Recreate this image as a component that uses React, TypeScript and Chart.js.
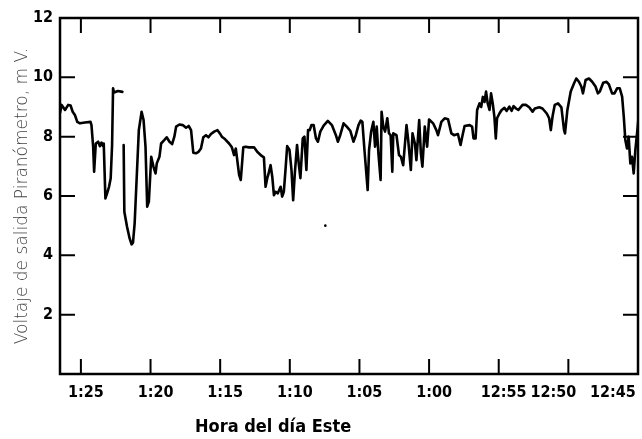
import React, { useEffect, useRef } from "react";
import { Chart, registerables } from "chart.js";

Chart.register(...registerables);

// Time in minutes after 12:00 (e.g. 85 = 1:25), axis runs backwards in time
const times: number[] = [
  86.5, 86.38, 86.14, 85.91, 85.74, 85.59, 85.43, 85.26, 85.07, 84.71, 84.31, 84.24, 84.12, 84.05,
  83.93, 83.76, 83.64, 83.52, 83.41, 83.36, 83.24, 83.12, 82.98, 82.86, 82.76, 82.69, 82.62, 82.34,
  82.02, 81.99,
  81.93, 81.88, 81.69, 81.5, 81.36, 81.26, 81.14, 80.98, 80.84, 80.64, 80.5, 80.36, 80.24, 80.12,
  79.95, 79.79, 79.64, 79.55, 79.36, 79.24, 79.0, 78.84, 78.64, 78.45, 78.29, 78.16, 77.93, 77.69,
  77.45, 77.26, 77.09, 76.93, 76.74, 76.55, 76.38, 76.21, 76.02, 75.84, 75.66, 75.43, 75.19, 75.02,
  74.88, 74.64, 74.36, 74.16, 74.0, 73.88, 73.81, 73.64, 73.52, 73.41, 73.34, 73.17, 72.93, 72.57,
  72.34, 72.02, 71.86, 71.74, 71.62, 71.55, 71.38, 71.26, 71.14, 71.02, 70.86, 70.66, 70.55, 70.43,
  70.31, 70.19, 70.02, 69.88, 69.76, 69.64, 69.48, 69.36, 69.24, 69.07, 68.95, 68.81, 68.69, 68.57,
  68.45, 68.29, 68.12, 67.98, 67.81, 67.57, 67.27, 66.98, 66.69, 66.55, 66.38, 66.14, 65.91, 65.66,
  65.43, 65.26, 65.07, 64.91, 64.79, 64.64, 64.41, 64.31, 64.16, 64.0, 63.88, 63.76, 63.64, 63.48,
  63.41, 63.29, 63.16, 63.0, 62.88, 62.76, 62.64, 62.57, 62.34, 62.16, 62.02, 61.86, 61.62, 61.5,
  61.31, 61.19, 61.02, 60.91, 60.71, 60.59, 60.48, 60.31, 60.14, 60.0, 59.71, 59.48, 59.36, 59.12,
  58.88, 58.64, 58.4, 58.21, 57.93, 57.74, 57.62, 57.45, 57.09, 56.91, 56.81, 56.66, 56.55, 56.38,
  56.26, 56.14, 56.02, 55.91, 55.79, 55.66, 55.55, 55.43, 55.31, 55.21, 55.12, 54.95, 54.79, 54.59,
  54.43, 54.24, 54.07, 53.93, 53.76, 53.59, 53.29, 53.05, 52.81, 52.57, 52.41, 52.09, 51.86, 51.55,
  51.38, 51.26, 51.14, 50.98, 50.74, 50.5, 50.31, 50.24, 50.07, 49.83, 49.59, 49.43, 49.24, 49.07,
  48.95, 48.76, 48.52, 48.29, 48.05, 47.88, 47.74, 47.5, 47.26, 47.09, 46.86, 46.69, 46.5, 46.31,
  46.14, 46.02, 45.91, 45.79, 45.67, 45.55, 45.43, 45.31, 45.19, 45.02, 44.95,
];

// Pyranometer output voltage, mV (null = break in the trace)
const voltage: (number | null)[] = [
  8.8, 9.07, 8.9, 9.07, 9.05, 8.84, 8.73, 8.5, 8.45, 8.48, 8.5, 8.39, 7.66, 6.82,
  7.77, 7.83, 7.68, 7.8, 7.68, 7.77, 5.92, 6.09, 6.31, 6.6, 7.72, 9.63, 9.49, 9.54,
  9.51, null,
  7.72, 5.47, 4.97, 4.57, 4.37, 4.43, 5.08, 6.76, 8.22, 8.84, 8.56, 7.66, 5.64, 5.81,
  7.32, 6.99, 6.76, 7.1, 7.32, 7.77, 7.89, 7.98, 7.83, 7.75, 8.0, 8.34, 8.41, 8.39,
  8.3, 8.36, 8.22, 7.46, 7.44, 7.49, 7.6, 7.98, 8.05, 7.98, 8.09, 8.17, 8.22, 8.11,
  8.0, 7.91, 7.77, 7.64, 7.38, 7.6, 7.35, 6.71, 6.54, 7.21, 7.64, 7.66, 7.64, 7.64,
  7.49, 7.35, 7.3, 6.31, 6.6, 6.71, 7.04, 6.65, 6.03, 6.14, 6.09, 6.31, 5.98, 6.14,
  6.88, 7.68, 7.55, 6.88, 5.86, 6.76, 7.72, 7.1, 6.6, 7.94, 8.0, 6.88, 8.22, 8.22,
  8.39, 8.39, 7.94, 7.83, 8.17, 8.37, 8.53, 8.39, 8.05, 7.83, 8.05, 8.45, 8.34, 8.2,
  7.83, 8.05, 8.39, 8.54, 8.5, 7.55, 6.2, 7.55, 8.17, 8.5, 7.66, 8.34, 7.44, 6.54,
  8.84, 8.34, 8.17, 8.62, 8.11, 8.05, 6.82, 8.11, 8.05, 7.38, 7.32, 7.04, 8.39, 7.89,
  6.88, 8.11, 7.77, 7.21, 8.56, 7.44, 6.99, 8.34, 7.66, 8.58, 8.45, 8.22, 8.05, 8.5,
  8.62, 8.59, 8.11, 8.05, 8.09, 7.72, 8.0, 8.36, 8.39, 8.34, 7.94, 7.94, 8.9, 9.12,
  9.0, 9.34, 9.17, 9.52, 9.12, 8.9, 9.46, 9.12, 8.67, 7.94, 8.62, 8.78, 8.9, 8.97,
  8.87, 9.01, 8.87, 9.03, 8.95, 8.9, 9.07, 9.07, 8.99, 8.84, 8.95, 8.99, 8.95, 8.78,
  8.62, 8.22, 8.67, 9.07, 9.12, 8.99, 8.22, 8.11, 8.9, 9.52, 9.8, 9.96, 9.85, 9.69,
  9.46, 9.91, 9.96, 9.85, 9.69, 9.46, 9.52, 9.82, 9.85, 9.76, 9.46, 9.46, 9.63, 9.63,
  9.35, 8.67, 7.89, 7.6, 8.0, 7.1, 7.32, 6.76, 7.55, 8.34, 8.7,
];

// isolated stray mark on the record
const strayTimes: number[] = [67.45];
const strayValues: number[] = [5.0];

const xTickValues: number[] = [45, 50, 55, 60, 65, 70, 75, 80, 85];
const xTickLabels: string[] = ["12:45", "12:50", "12:55", "1:00", "1:05", "1:10", "1:15", "1:20", "1:25"];
const yTickLabels: string[] = ["", "2", "4", "6", "8", "10", "12"];

const xTitle = "Hora del día Este";
const yTitle = "Voltaje de salida Piranómetro, m V.";

const tickFont = "'DejaVu Sans Condensed', 'DejaVu Sans', sans-serif";

const framePlugin = {
  id: "frame",
  afterDraw(chart: any) {
    const { ctx, chartArea: a, scales } = chart;
    const xs = scales.x;
    const ys = scales.y;
    ctx.save();
    ctx.strokeStyle = "#000";
    ctx.lineWidth = 2;
    const tl = 15;
    xs.ticks.forEach((t: any) => {
      const px = xs.getPixelForValue(t.value);
      if (px > a.left + 3 && px < a.right - 3) {
        ctx.beginPath();
        ctx.moveTo(px, a.bottom);
        ctx.lineTo(px, a.bottom - tl);
        ctx.moveTo(px, a.top);
        ctx.lineTo(px, a.top + tl);
        ctx.stroke();
      }
    });
    ys.ticks.forEach((t: any) => {
      const py = ys.getPixelForValue(t.value);
      if (py > a.top + 3 && py < a.bottom - 3) {
        ctx.beginPath();
        ctx.moveTo(a.left, py);
        ctx.lineTo(a.left + tl, py);
        ctx.moveTo(a.right, py);
        ctx.lineTo(a.right - tl, py);
        ctx.stroke();
      }
    });
    ctx.lineWidth = 2.5;
    ctx.strokeRect(a.left, a.top, a.right - a.left, a.bottom - a.top);
    // x axis title
    ctx.fillStyle = "#000";
    ctx.font = "bold 18px " + tickFont;
    ctx.textAlign = "left";
    ctx.textBaseline = "alphabetic";
    ctx.fillText(xTitle, a.left + 135, a.bottom + 58);
    ctx.restore();
  },
};

export default function App() {
  const ref = useRef<HTMLCanvasElement | null>(null);
  useEffect(() => {
    if (!ref.current) return;
    const pts = times.map((t, i) => ({ x: t, y: voltage[i] }));
    const stray = strayTimes.map((t, i) => ({ x: t, y: strayValues[i] }));
    const chart = new Chart(ref.current, {
      type: "line",
      data: {
        datasets: [
          {
            data: pts as any,
            borderColor: "#000",
            borderWidth: 2.6,
            borderJoinStyle: "round",
            borderCapStyle: "round",
            pointRadius: 0,
            tension: 0,
            spanGaps: false,
            fill: false,
          },
          {
            data: stray as any,
            showLine: false,
            pointRadius: 1.3,
            pointBackgroundColor: "#000",
            pointBorderWidth: 0,
          },
        ],
      },
      options: {
        animation: false,
        responsive: false,
        layout: { padding: { top: 18, right: 1, bottom: 0, left: 0 } },
        plugins: { legend: { display: false }, tooltip: { enabled: false } },
        scales: {
          x: {
            type: "linear",
            reverse: true,
            min: 45,
            max: 86.5,
            afterBuildTicks(scale: any) {
              scale.ticks = xTickValues.map((v) => ({ value: v }));
            },
            afterFit(scale: any) {
              scale.paddingLeft = 0;
              scale.paddingRight = 0;
              scale.height = 65;
            },
            grid: { display: false, drawTicks: false },
            border: { display: false },
            ticks: {
              autoSkip: false,
              maxRotation: 0,
              padding: 9,
              labelOffset: 5,
              color: "#000",
              font: { family: tickFont, size: 16, weight: "bold" },
              callback(value: any) {
                const i = xTickValues.indexOf(Number(value));
                const lab = i >= 0 ? xTickLabels[i] : "";
                if (lab === "12:45") return lab + "            ";
                if (lab === "12:50") return lab + "        ";
                return lab;
              },
            },
          },
          y: {
            min: 0,
            max: 12,
            afterFit(scale: any) {
              scale.width = 60;
              scale.paddingTop = 0;
              scale.paddingBottom = 0;
            },
            grid: { display: false, drawTicks: false },
            border: { display: false },
            ticks: {
              stepSize: 2,
              padding: 7,
              color: "#000",
              font: { family: tickFont, size: 16, weight: "bold" },
              callback(value: any) {
                return yTickLabels[Math.round(Number(value) / 2)] ?? "";
              },
            },
            title: {
              display: true,
              text: yTitle,
              color: "#444",
              padding: { top: 12, bottom: 0 },
              font: { family: "'DejaVu Sans', sans-serif", size: 17, weight: "200" },
            },
          },
        },
      },
      plugins: [framePlugin],
    });
    return () => chart.destroy();
  }, []);
  return (
    <canvas
      ref={ref}
      width={642}
      height={439}
      style={{ position: "absolute", left: 0, top: 0, width: 642, height: 439 }}
    />
  );
}
